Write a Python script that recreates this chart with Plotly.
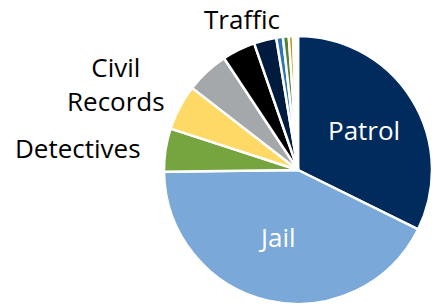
import plotly.graph_objects as go

labels = ["Patrol", "Jail", "Detectives", "Civil Records", "Admin", "Support", "Traffic", "Other A", "Other B", "Other C", "Other D"]
values = [32.3, 42.5, 5.2, 5.5, 5.2, 4.0, 2.7, 0.8, 0.7, 0.5, 0.6]
colors = ["#002B5C", "#7AA8D8", "#76A540", "#FFD966", "#A5A8AB", "#000000", "#001B3D", "#2E75B6", "#548235", "#BF9000", "#FFFFFF"]

R = 134
CX, CY = 298, 170
fig = go.Figure(go.Pie(
    labels=labels, values=values, sort=False, direction="clockwise", rotation=0,
    marker=dict(colors=colors, line=dict(color="white", width=2.5)),
    textinfo="none", hoverinfo="label+percent", showlegend=False,
    domain=dict(x=[(CX - R) / 432, min(1, (CX + R) / 432)],
                y=[(306 - CY - R) / 306, (306 - CY + R) / 306]),
))

font = dict(family="Open Sans", size=26)
ann = [
    ("Patrol", 364, 130, "white"),
    ("Jail", 277, 237, "white"),
    ("Detectives", 77.5, 148, "black"),
    ("Civil<br>Records", 116, 84, "black"),
    ("Traffic", 242, 19, "black"),
]
for t, x, y, c in ann:
    fig.add_annotation(text=t, x=x / 432, y=1 - y / 306, xref="paper", yref="paper",
                       showarrow=False, xanchor="center", yanchor="middle",
                       font=dict(font, color=c))

fig.update_layout(width=432, height=306, margin=dict(l=0, r=0, t=0, b=0),
                  paper_bgcolor="white", plot_bgcolor="white")
fig.write_html("out.html", config={"displayModeBar": False},
               post_script="document.body.style.margin='0';document.body.style.overflow='hidden';")
